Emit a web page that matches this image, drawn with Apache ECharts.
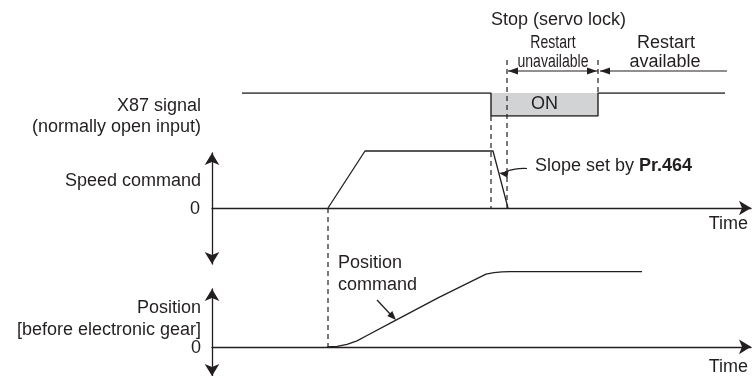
<!DOCTYPE html>
<html>
<head>
<meta charset="utf-8">
<script src="https://cdn.jsdelivr.net/npm/echarts@6/dist/echarts.min.js"></script>
<style>
html, body { margin: 0; padding: 0; background: #fff; }
#chart { width: 752px; height: 376px; }
</style>
</head>
<body>
<div id="chart"></div>
<script>
// time runs in arbitrary units on all three rows
var timeMax = 53.9;

// X87 signal: 1 = off (upper line), 0 = on
var signalTime = [3.0, 27.9, 27.9, 38.6, 38.6, 51.3];
var signalLevel = [1, 1, 0, 0, 1, 1];

// speed command, normalised
var speedTime = [11.6, 15.3, 28.1, 29.6];
var speedValue = [0, 1, 1, 0];

// position command, normalised
var posTime = [11.5, 12.5, 13.5, 14.5, 15.5, 18.3, 22.6, 27.4, 28.2, 29.0, 29.8, 43.0];
var posValue = [0, 0.007, 0.033, 0.079, 0.151, 0.349, 0.651, 0.967, 0.987, 0.997, 1, 1];

var INK = '#231f20';
var FONT = 'Liberation Sans, Arial, sans-serif';

function pairs(xs, ys) {
	return xs.map(function(x, i) { return [x, ys[i]]; });
}

var chart = echarts.init(document.getElementById('chart'));

function hiddenX(grid) {
	return {
		type: 'value', gridIndex: grid, min: 0, max: timeMax,
		axisLine: { show: false }, axisTick: { show: false },
		axisLabel: { show: false }, splitLine: { show: false }
	};
}
function arrowX(grid) {
	return {
		type: 'value', gridIndex: grid, min: 0, max: timeMax,
		axisLine: { show: true, onZero: true, symbol: ['none', 'arrow'], symbolSize: [11, 12],
			lineStyle: { color: INK, width: 1.3 } },
		axisTick: { show: false }, axisLabel: { show: false }, splitLine: { show: false }
	};
}
function arrowY(grid, min, max) {
	return {
		type: 'value', gridIndex: grid, min: min, max: max,
		axisLine: { show: true, onZero: false, symbol: ['arrow', 'arrow'], symbolSize: [11, 12],
			lineStyle: { color: INK, width: 1.3 } },
		axisTick: { show: false }, axisLabel: { show: false }, splitLine: { show: false }
	};
}

var option = {
	animation: false,
	backgroundColor: '#fff',
	grid: [
		{ left: 212, right: 1, top: 93, height: 23 },
		{ left: 212, right: 1, top: 153, height: 111 },
		{ left: 212, right: 1, top: 289, height: 88 }
	],
	xAxis: [hiddenX(0), arrowX(1), arrowX(2)],
	yAxis: [
		{ type: 'value', gridIndex: 0, min: 0, max: 1, show: false },
		arrowY(1, -56 / 57, 55 / 57),
		arrowY(2, -29.5 / 76, 58.5 / 76)
	],
	series: [
		{
			type: 'line', xAxisIndex: 0, yAxisIndex: 0,
			data: pairs(signalTime, signalLevel),
			showSymbol: false, symbol: 'none',
			lineStyle: { color: INK, width: 1.4 },
			z: 3,
			markArea: {
				silent: true,
				itemStyle: { color: '#d1d3d4' },
				label: { show: true, position: 'inside', color: INK, fontSize: 18, fontFamily: FONT },
				data: [[{ name: 'ON', coord: [signalTime[2], 0] }, { coord: [signalTime[3], 1] }]]
			}
		},
		{
			type: 'line', xAxisIndex: 1, yAxisIndex: 1,
			data: pairs(speedTime, speedValue),
			showSymbol: false, symbol: 'none', clip: false,
			lineStyle: { color: INK, width: 1.3 }
		},
		{
			type: 'line', xAxisIndex: 2, yAxisIndex: 2,
			data: pairs(posTime, posValue),
			showSymbol: false, symbol: 'none', clip: false,
			lineStyle: { color: INK, width: 1.3 }
		}
	]
};
chart.setOption(option);

// annotations placed from the time values through the axes
function px(grid, t, v) {
	return chart.convertToPixel({ gridIndex: grid }, [t, v]);
}
function dashed(x, y1, y2) {
	return { type: 'line', shape: { x1: x, y1: y1, x2: x, y2: y2 },
		style: { stroke: INK, lineWidth: 1.2, lineDash: [5, 4] }, z: 10 };
}
function head(tx, ty, ang, len, w) {
	var c = Math.cos(ang), s = Math.sin(ang);
	return { type: 'polygon', z: 11, shape: { points: [
		[tx, ty],
		[tx - len * c - w * s, ty - len * s + w * c],
		[tx - len * c + w * s, ty - len * s - w * c]
	] }, style: { fill: INK } };
}
function txt(text, x, y, align, extra) {
	var el = { type: 'text', x: x, y: y, z: 12, style: {
		text: text, fill: INK, font: '18px ' + FONT, align: align, verticalAlign: 'middle'
	} };
	if (extra) Object.keys(extra).forEach(function(k) { el[k] = extra[k]; });
	return el;
}

var zeroSpeedStart = px(1, speedTime[0], 0);
var zeroPosStart = px(2, speedTime[0], 0);
var sigOn = px(0, signalTime[1], 0);
var spdAtSig = px(1, signalTime[1], 0);
var lockX = px(1, speedTime[3], 0);
var availX = px(0, signalTime[3], 1);
var topY = 60, arrowY = 71;

var g = [
	dashed(zeroSpeedStart[0], zeroSpeedStart[1], zeroPosStart[1]),
	dashed(sigOn[0], sigOn[1], spdAtSig[1]),
	dashed(lockX[0] - 1, topY, lockX[1]),
	dashed(availX[0], topY, availX[1]),
	// restart unavailable double arrow
	{ type: 'line', shape: { x1: lockX[0], y1: arrowY, x2: availX[0], y2: arrowY },
		style: { stroke: INK, lineWidth: 1.2 } },
	head(lockX[0], arrowY, Math.PI, 10, 3.5),
	head(availX[0] - 1, arrowY, 0, 10, 3.5),
	// restart available arrow
	{ type: 'line', shape: { x1: availX[0] + 2, y1: arrowY, x2: 727, y2: arrowY },
		style: { stroke: INK, lineWidth: 1.2 } },
	head(availX[0] + 2, arrowY, Math.PI, 10, 3.5),
	// slope pointer
	{ type: 'bezierCurve', z: 11, shape: { x1: 527, y1: 168.5, x2: 505, y2: 172, cpx1: 514, cpy1: 168 },
		style: { stroke: INK, lineWidth: 1.2, fill: null } },
	head(499, 173, Math.PI + 0.15, 9, 3.5),
	// position command pointer
	{ type: 'line', z: 11, shape: { x1: 377, y1: 300, x2: 392, y2: 316 },
		style: { stroke: INK, lineWidth: 1.2 } },
	head(396, 320, Math.atan2(20, 19), 9, 3.5),

	txt('Stop (servo lock)', 491, 20, 'left'),
	txt('Restart', 553, 43, 'center', { scaleX: 0.78 }),
	txt('unavailable', 553, 62, 'center', { scaleX: 0.78 }),
	txt('Restart', 666, 43, 'center'),
	txt('available', 665, 62, 'center'),
	txt('X87 signal', 201, 106, 'right'),
	txt('(normally open input)', 201, 127, 'right'),
	txt('Speed command', 201, 181, 'right'),
	txt('0', 200, 209, 'right'),
	txt('Time', 748, 224, 'right'),
	txt('Position', 338, 263, 'left'),
	txt('command', 338, 285, 'left'),
	txt('Position', 201, 308, 'right'),
	txt('[before electronic gear]', 201, 330, 'right'),
	txt('0', 201, 348, 'right'),
	txt('Time', 748, 367, 'right'),
	{ type: 'text', x: 535, y: 166, z: 12, style: {
		text: '{a|Slope set by }{b|Pr.464}', verticalAlign: 'middle', align: 'left',
		rich: {
			a: { fill: INK, fontSize: 18, fontFamily: FONT },
			b: { fill: INK, fontSize: 18, fontFamily: FONT, fontWeight: 'bold' }
		}
	} }
];
chart.setOption({ graphic: g });
</script>
</body>
</html>
